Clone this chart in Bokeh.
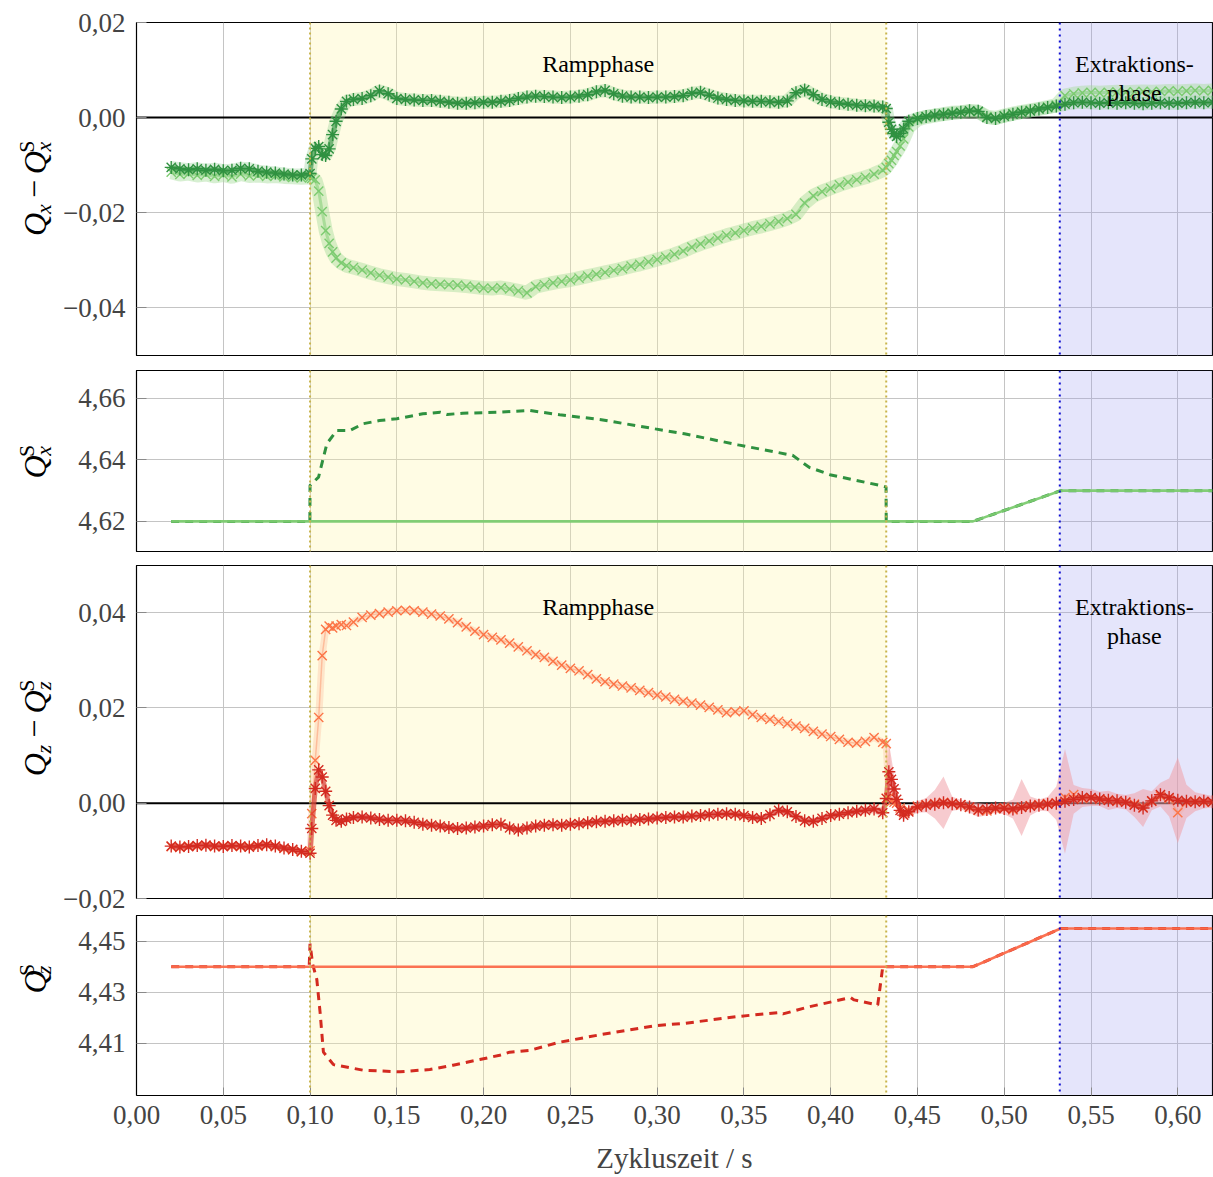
import numpy as np
from bokeh.plotting import figure
from bokeh.layouts import column, row
from bokeh.models import (Range1d, FixedTicker, CustomJSTickFormatter, BoxAnnotation,
                          Span, Label)
from bokeh.embed import file_html
from bokeh.resources import INLINE

FONT = "Liberation Serif"

# ---------------------------------------------------------------- data
# sample times (s)
T = [0.020, 0.025, 0.030, 0.035, 0.040, 0.045, 0.050, 0.055, 0.060, 0.065, 0.070, 0.075, 0.080, 0.085, 0.090, 0.095,
     0.100,
     0.101, 0.103, 0.105, 0.107, 0.109, 0.111, 0.113, 0.115, 0.118, 0.121,
     0.125, 0.130, 0.135, 0.140, 0.145, 0.150, 0.155, 0.160, 0.165, 0.170,
     0.175, 0.180, 0.185, 0.190, 0.195, 0.200, 0.205, 0.210, 0.215, 0.220,
     0.225, 0.230, 0.235, 0.240, 0.245, 0.250, 0.255, 0.260, 0.265, 0.270,
     0.275, 0.280, 0.285, 0.290, 0.295, 0.300, 0.305, 0.310, 0.315, 0.320,
     0.325, 0.330, 0.335, 0.340, 0.345, 0.350, 0.355, 0.360, 0.365, 0.370,
     0.375, 0.380, 0.385, 0.390, 0.395, 0.400, 0.405, 0.410, 0.415, 0.420,
     0.425, 0.430,
     0.432, 0.4335, 0.435, 0.4365, 0.438, 0.440, 0.442, 0.445,
     0.450, 0.455, 0.460, 0.465, 0.470, 0.475, 0.480, 0.485, 0.490, 0.495,
     0.500, 0.505, 0.510, 0.515, 0.520, 0.525, 0.530, 0.535, 0.540, 0.545,
     0.550, 0.555, 0.560, 0.565, 0.570, 0.575, 0.580, 0.585, 0.590, 0.595,
     0.600, 0.605, 0.610, 0.615, 0.620]

# Q_x - Q_x^S, measured (asterisks)
DQX_A = [-0.0105, -0.0108, -0.0110, -0.0108, -0.0111, -0.0109, -0.0112, -0.0111, -0.0107, -0.0108, -0.0113, -0.0115, -0.0117, -0.0119, -0.0121, -0.0121,
         -0.0118,
         -0.0087, -0.0065, -0.0061, -0.0078, -0.0080, -0.0066, -0.0036, -0.0008, 0.0018, 0.0034,
         0.0038, 0.0040, 0.0046, 0.0056, 0.0050, 0.0040, 0.0038, 0.0037, 0.0036, 0.0036,
         0.0034, 0.0032, 0.0030, 0.0030, 0.0031, 0.0032, 0.0032, 0.0034, 0.0036, 0.0040,
         0.0043, 0.0045, 0.0044, 0.0043, 0.0042, 0.0043, 0.0045, 0.0048, 0.0054, 0.0057,
         0.0050, 0.0045, 0.0043, 0.0043, 0.0042, 0.0043, 0.0043, 0.0044, 0.0046, 0.0051,
         0.0053, 0.0047, 0.0041, 0.0038, 0.0036, 0.0035, 0.0034, 0.0034, 0.0033, 0.0032,
         0.0035, 0.0052, 0.0058, 0.0048, 0.0038, 0.0033, 0.0030, 0.0028, 0.0026, 0.0025,
         0.0024, 0.0022,
         0.0019, -0.0010, -0.0025, -0.0034, -0.0040, -0.0033, -0.0024, -0.0008,
         -0.0002, 0.0002, 0.0005, 0.0007, 0.0009, 0.0011, 0.0014, 0.0013, 0.0000, -0.0002,
         0.0003, 0.0007, 0.0011, 0.0014, 0.0018, 0.0021, 0.0024, 0.0028, 0.0031, 0.0032,
         0.0031, 0.0030, 0.0031, 0.0030, 0.0031, 0.0030, 0.0029, 0.0030, 0.0031, 0.0030,
         0.0030, 0.0031, 0.0032, 0.0031, 0.0032]

# Q_x - Q_x^S, second measurement (crosses)
DQX_B = [-0.0115, -0.0120, -0.0118, -0.0122, -0.0120, -0.0124, -0.0121, -0.0125, -0.0119, -0.0123, -0.0122, -0.0124, -0.0123, -0.0125, -0.0126, -0.0127,
         -0.0126,
         -0.0128, -0.0131, -0.0155, -0.0198, -0.0238, -0.0265, -0.0283, -0.0296, -0.0306, -0.0312,
         -0.0316, -0.0321, -0.0327, -0.0332, -0.0336, -0.0340, -0.0342, -0.0345, -0.0348, -0.0350,
         -0.0351, -0.0352, -0.0353, -0.0355, -0.0357, -0.0359, -0.0360, -0.0358, -0.0361, -0.0365,
         -0.0369, -0.0356, -0.0352, -0.0348, -0.0345, -0.0342, -0.0338, -0.0334, -0.0330, -0.0326,
         -0.0322, -0.0318, -0.0313, -0.0309, -0.0304, -0.0299, -0.0294, -0.0288, -0.0281, -0.0273,
         -0.0266, -0.0260, -0.0254, -0.0248, -0.0243, -0.0238, -0.0233, -0.0229, -0.0224, -0.0219,
         -0.0213, -0.0204, -0.0180, -0.0165, -0.0156, -0.0149, -0.0142, -0.0136, -0.0131, -0.0126,
         -0.0119, -0.0111,
         -0.0105, -0.0097, -0.0090, -0.0080, -0.0072, -0.0060, -0.0045, -0.0020,
         -0.0004, 0.0001, 0.0004, 0.0007, 0.0010, 0.0011, 0.0013, 0.0012, 0.0002, -0.0001,
         0.0004, 0.0008, 0.0012, 0.0015, 0.0018, 0.0022, 0.0026, 0.0046, 0.0050, 0.0052,
         0.0053, 0.0052, 0.0053, 0.0054, 0.0053, 0.0054, 0.0055, 0.0054, 0.0055, 0.0056,
         0.0055, 0.0056, 0.0057, 0.0056, 0.0057]

# Q_z - Q_z^S, measured (asterisks)
DQZ_A = [-0.0090, -0.0092, -0.0091, -0.0089, -0.0088, -0.0090, -0.0091, -0.0089, -0.0090, -0.0092, -0.0089, -0.0087, -0.0090, -0.0094, -0.0097, -0.0101,
         -0.0105,
         -0.0053, 0.0031, 0.0070, 0.0055, 0.0025, -0.0005, -0.0025, -0.0036, -0.0038, -0.0033,
         -0.0030, -0.0029, -0.0031, -0.0034, -0.0036, -0.0036, -0.0037, -0.0040, -0.0044, -0.0046,
         -0.0048, -0.0051, -0.0053, -0.0052, -0.0050, -0.0048, -0.0045, -0.0044, -0.0052, -0.0056,
         -0.0052, -0.0048, -0.0046, -0.0045, -0.0046, -0.0044, -0.0043, -0.0041, -0.0039, -0.0038,
         -0.0037, -0.0036, -0.0036, -0.0034, -0.0033, -0.0031, -0.0030, -0.0029, -0.0029, -0.0027,
         -0.0026, -0.0024, -0.0023, -0.0022, -0.0023, -0.0026, -0.0030, -0.0032, -0.0024, -0.0015,
         -0.0018, -0.0028, -0.0037, -0.0038, -0.0032, -0.0026, -0.0023, -0.0020, -0.0017, -0.0015,
         -0.0012, -0.0020,
         0.0010, 0.0066, 0.0050, 0.0030, 0.0008, -0.0015, -0.0025, -0.0018,
         -0.0008, -0.0004, -0.0002, 0.0001, -0.0001, -0.0003, -0.0008, -0.0014, -0.0013, -0.0010,
         -0.0011, -0.0012, -0.0009, -0.0006, -0.0004, -0.0002, 0.0000, 0.0004, 0.0008, 0.0012,
         0.0012, 0.0009, 0.0006, 0.0005, 0.0002, -0.0004, -0.0010, 0.0005, 0.0018, 0.0012,
         0.0006, 0.0004, 0.0003, 0.0004, 0.0003]

# spread of the measured Q_z - Q_z^S
DQZ_A_ERR = [0.0006, 0.0007, 0.0006, 0.0006, 0.0007, 0.0006, 0.0006, 0.0007, 0.0006, 0.0006, 0.0007, 0.0006, 0.0006, 0.0007, 0.0006, 0.0006,
             0.0007,
             0.0008, 0.0009, 0.0010, 0.0009, 0.0008, 0.0008, 0.0008, 0.0008, 0.0008, 0.0008,
             0.0007, 0.0007, 0.0007, 0.0007, 0.0007, 0.0007, 0.0007, 0.0007, 0.0007, 0.0007,
             0.0007, 0.0007, 0.0007, 0.0007, 0.0007, 0.0007, 0.0007, 0.0007, 0.0007, 0.0007,
             0.0007, 0.0007, 0.0007, 0.0007, 0.0007, 0.0007, 0.0007, 0.0007, 0.0007, 0.0007,
             0.0007, 0.0007, 0.0007, 0.0007, 0.0007, 0.0007, 0.0007, 0.0007, 0.0007, 0.0007,
             0.0007, 0.0007, 0.0007, 0.0007, 0.0007, 0.0007, 0.0007, 0.0007, 0.0007, 0.0008,
             0.0007, 0.0007, 0.0007, 0.0007, 0.0007, 0.0007, 0.0007, 0.0007, 0.0008, 0.0008,
             0.0009, 0.0010,
             0.0010, 0.0060, 0.0045, 0.0030, 0.0020, 0.0012, 0.0010, 0.0010,
             0.0012, 0.0015, 0.0030, 0.0055, 0.0015, 0.0010, 0.0012, 0.0015, 0.0012, 0.0010,
             0.0012, 0.0020, 0.0060, 0.0020, 0.0012, 0.0015, 0.0035, 0.0110, 0.0030, 0.0020,
             0.0018, 0.0015, 0.0020, 0.0015, 0.0015, 0.0025, 0.0040, 0.0020, 0.0025, 0.0040,
             0.0090, 0.0035, 0.0020, 0.0015, 0.0012]

# Q_z - Q_z^S, second measurement (crosses)
DQZ_B = [-0.0091, -0.0093, -0.0090, -0.0090, -0.0089, -0.0091, -0.0090, -0.0090, -0.0091, -0.0091, -0.0090, -0.0088, -0.0091, -0.0095, -0.0098, -0.0102,
         -0.0100,
         -0.0022, 0.0090, 0.0180, 0.0310, 0.0365, 0.0372, 0.0368, 0.0372, 0.0375, 0.0373,
         0.0380, 0.0390, 0.0395, 0.0398, 0.0401, 0.0404, 0.0405, 0.0404, 0.0401, 0.0397,
         0.0393, 0.0387, 0.0379, 0.0370, 0.0361, 0.0354, 0.0348, 0.0343, 0.0336, 0.0328,
         0.0320, 0.0312, 0.0306, 0.0298, 0.0290, 0.0283, 0.0278, 0.0270, 0.0261, 0.0255,
         0.0250, 0.0246, 0.0242, 0.0237, 0.0232, 0.0227, 0.0223, 0.0218, 0.0214, 0.0210,
         0.0206, 0.0201, 0.0196, 0.0190, 0.0192, 0.0194, 0.0186, 0.0180, 0.0176, 0.0172,
         0.0167, 0.0162, 0.0157, 0.0151, 0.0145, 0.0140, 0.0134, 0.0128, 0.0126, 0.0130,
         0.0138, 0.0128,
         0.0125, 0.0012, 0.0004, 0.0002, 0.0000, -0.0010, -0.0020, -0.0015,
         -0.0006, -0.0003, -0.0001, 0.0002, 0.0000, -0.0004, -0.0009, -0.0015, -0.0016, -0.0012,
         -0.0009, -0.0014, -0.0008, -0.0005, -0.0003, -0.0001, 0.0001, 0.0012, 0.0018, 0.0010,
         0.0011, 0.0008, 0.0007, 0.0004, 0.0003, -0.0002, -0.0008, 0.0004, 0.0015, 0.0010,
         -0.0020, 0.0002, 0.0004, 0.0003, 0.0002]

# set tunes
QXS_NOM_T = [0.020, 0.482, 0.5325, 0.620]
QXS_NOM = [4.620, 4.620, 4.630, 4.630]
QXS_CORR_T = [0.020, 0.0999, 0.1000, 0.1049, 0.1097, 0.1154, 0.1230, 0.1307, 0.1400, 0.1500,
              0.1650, 0.1750, 0.1790, 0.1880, 0.2074, 0.2265, 0.2438, 0.2678, 0.2989, 0.3157,
              0.3467, 0.3780, 0.3876, 0.3995, 0.4307, 0.4319, 0.4320, 0.4820, 0.5325, 0.6200]
QXS_CORR = [4.6200, 4.6200, 4.6317, 4.6344, 4.6453, 4.6496, 4.6496, 4.6518, 4.6528, 4.6534,
            4.6550, 4.6555, 4.6548, 4.6552, 4.6555, 4.6561, 4.6547, 4.6531, 4.6501, 4.6485,
            4.6449, 4.6415, 4.6376, 4.6352, 4.6314, 4.6312, 4.6200, 4.6200, 4.6300, 4.6300]

QZS_NOM_T = [0.020, 0.482, 0.5325, 0.620]
QZS_NOM = [4.440, 4.440, 4.455, 4.455]
QZS_CORR_T = [0.020, 0.0995, 0.1000, 0.1015, 0.1039, 0.1058, 0.1077, 0.1135, 0.1307, 0.1518,
              0.1690, 0.1824, 0.1978, 0.2093, 0.2150, 0.2265, 0.2438, 0.2678, 0.2989, 0.3157,
              0.3467, 0.3708, 0.3725, 0.3876, 0.4115, 0.4135, 0.4271, 0.4300, 0.4820, 0.5325,
              0.6200]
QZS_CORR = [4.4400, 4.4400, 4.4490, 4.4410, 4.4350, 4.4220, 4.4065, 4.4016, 4.3994, 4.3988,
            4.3997, 4.4014, 4.4036, 4.4053, 4.4065, 4.4072, 4.4104, 4.4134, 4.4169, 4.4178,
            4.4205, 4.4221, 4.4215, 4.4243, 4.4279, 4.4270, 4.4250, 4.4400, 4.4400, 4.4550,
            4.4550]

RAMP = (0.100, 0.432)
EXTRACTION = (0.532, 0.620)
X_TICKS = [0.00, 0.05, 0.10, 0.15, 0.20, 0.25, 0.30, 0.35, 0.40, 0.45, 0.50, 0.55, 0.60]

# ---------------------------------------------------------------- styling
LABEL_W = 59               # strip holding the rotated y labels
PLOT_W = 1213 - LABEL_W
GREEN_DARK = "#2f9140"
GREEN_LIGHT = "#7ccb70"
RED_DARK = "#d32a20"
RED_LIGHT = "#fc7446"
GRID = "#c4c4c4"
TICK_FMT = "return tick.toFixed(2).replace('.', ',').replace('-', '\u2212');"

XR = Range1d(0.0, 0.62)


def panel(y0, y1, yticks, height, top, bottom, x_axis=False):
    p = figure(width=PLOT_W, height=height, x_range=XR, y_range=Range1d(y0, y1),
               output_backend="svg", toolbar_location=None,
               x_axis_location="below" if x_axis else None,
               min_border_left=136 - LABEL_W, min_border_right=1,
               min_border_top=top, min_border_bottom=bottom)
    p.outline_line_color = "black"
    p.outline_line_width = 1.2
    p.background_fill_color = "white"
    p.border_fill_color = "white"
    for g, ticks in ((p.xgrid, X_TICKS), (p.ygrid, yticks)):
        g.ticker = FixedTicker(ticks=ticks)
        g.grid_line_color = GRID
        g.grid_line_width = 1

    ax = p.yaxis[0]
    ax.ticker = FixedTicker(ticks=yticks)
    ax.formatter = CustomJSTickFormatter(code=TICK_FMT)
    ax.major_tick_in = 10
    ax.major_tick_out = 0
    ax.minor_tick_in = 0
    ax.minor_tick_out = 0
    ax.major_tick_line_color = "#8a8a8a"
    ax.axis_line_color = "black"
    ax.major_label_text_font = FONT
    ax.major_label_text_font_size = "27px"
    ax.major_label_standoff = 11

    if x_axis:
        xa = p.xaxis[0]
        xa.ticker = FixedTicker(ticks=X_TICKS)
        xa.formatter = CustomJSTickFormatter(code=TICK_FMT)
        xa.major_tick_in = 8
        xa.major_tick_out = 0
        xa.minor_tick_in = 0
        xa.minor_tick_out = 0
        xa.major_tick_line_color = "#8a8a8a"
        xa.axis_line_color = "black"
        xa.major_label_text_font = FONT
        xa.major_label_text_font_size = "27px"
        xa.major_label_standoff = 10
        xa.axis_label = "Zykluszeit / s"
        xa.axis_label_text_font = FONT
        xa.axis_label_text_font_size = "29px"
        xa.axis_label_text_font_style = "normal"
        xa.axis_label_standoff = 15

    # phase shading
    p.add_layout(BoxAnnotation(left=RAMP[0], right=RAMP[1], fill_color="#fff5a5",
                               fill_alpha=0.30, line_color=None, level="underlay"))
    p.add_layout(BoxAnnotation(left=EXTRACTION[0], right=EXTRACTION[1], fill_color="#9696f0",
                               fill_alpha=0.25, line_color=None, level="underlay"))
    for loc in RAMP:
        p.add_layout(Span(location=loc, dimension="height", line_color="#c8b44c",
                          line_width=2, line_dash="2 3"))
    p.add_layout(Span(location=EXTRACTION[0], dimension="height", line_color="#1010d0",
                      line_width=2, line_dash="2 4"))
    return p


def label_strip(height, center, pieces):
    # a narrow blank figure whose data units are pixels (y counted from the top);
    # every piece is centred on its own spot, rotated to read upwards
    f = figure(width=LABEL_W, height=height, x_range=Range1d(0, LABEL_W),
               y_range=Range1d(height, 0), output_backend="svg", toolbar_location=None,
               x_axis_location=None, y_axis_location=None, min_border=0)
    f.outline_line_color = None
    f.grid.visible = False
    f.background_fill_color = "white"
    f.border_fill_color = "white"
    for txt, x, adv, size, style in pieces:
        f.add_layout(Label(x=x, y=center - adv, text=txt, angle=np.pi / 2,
                           text_align="center", text_baseline="middle",
                           text_font=FONT, text_font_size=f"{size}px",
                           text_font_style=style, text_color="black"))
    return f


def diff_label(sub):
    # Q_sub - Q_sub^S ; (text, centre x, centre offset upwards, size, style)
    return [("Q", 34, -39.5, 32, "italic"), (sub, 42.5, -23, 22, "italic"),
            ("\u2212", 34, -1, 32, "normal"), ("Q", 34, 27.5, 32, "italic"),
            ("S", 25.5, 45, 22, "normal"), (sub, 42.5, 45, 22, "italic")]


def set_label(sub):
    return [("Q", 34, -6, 32, "italic"), ("S", 25.5, 11.5, 22, "normal"),
            (sub, 42.5, 11.5, 22, "italic")]


def phase_texts(p, y_top, line_gap):
    kw = dict(text_font=FONT, text_font_size="24px", text_align="center",
              text_baseline="middle", text_color="black")
    p.add_layout(Label(x=0.266, y=y_top, text="Rampphase", **kw))
    p.add_layout(Label(x=0.575, y=y_top, text="Extraktions-", **kw))
    p.add_layout(Label(x=0.575, y=y_top - line_gap, text="phase", **kw))


# ---------------------------------------------------------------- panel 1: Q_x - Q_x^S
H1, H2, H3, H4 = 362, 196, 356, 263
p1 = panel(-0.0501, 0.02, [-0.04, -0.02, 0.0, 0.02], H1, 22, 7)
p1.add_layout(Span(location=0, dimension="width", line_color="black", line_width=2, level="underlay"))
p1.line(T, DQX_B, line_color="#a6dc9c", line_width=14, line_alpha=0.45)
p1.line(T, DQX_A, line_color="#8fcf93", line_width=13, line_alpha=0.35)
p1.line(T, DQX_B, line_color=GREEN_LIGHT, line_width=3, line_alpha=0.5)
p1.scatter(T, DQX_B, marker="x", size=13, line_color=GREEN_LIGHT, line_width=1.4)
p1.line(T, DQX_A, line_color=GREEN_DARK, line_width=5, line_alpha=0.6)
p1.scatter(T, DQX_A, marker="asterisk", size=13, line_color=GREEN_DARK, line_width=1.4)
phase_texts(p1, 0.0112, 0.0061)
l1 = label_strip(H1, 180, diff_label("x"))

# ---------------------------------------------------------------- panel 2: Q_x^S
p2 = panel(4.6102, 4.6691, [4.62, 4.64, 4.66], H2, 8, 7)
p2.line(QXS_CORR_T, QXS_CORR, line_color=GREEN_DARK, line_width=3, line_dash="8 6")
p2.line(QXS_NOM_T, QXS_NOM, line_color=GREEN_LIGHT, line_width=2.6, line_alpha=0.95)
l2 = label_strip(H2, 8 + 181 / 2, set_label("x"))

# ---------------------------------------------------------------- panel 3: Q_z - Q_z^S
p3 = panel(-0.02, 0.0499, [-0.02, 0.0, 0.02, 0.04], H3, 7, 16)
p3.add_layout(Span(location=0, dimension="width", line_color="black", line_width=2, level="underlay"))
lo = [v - e for v, e in zip(DQZ_A, DQZ_A_ERR)]
hi = [v + e for v, e in zip(DQZ_A, DQZ_A_ERR)]
p3.line(T, DQZ_B, line_color="#fdbb9a", line_width=7, line_alpha=0.35)
p3.varea(x=T, y1=lo, y2=hi, fill_color="#f0a0a8", fill_alpha=0.55)
p3.line(T, DQZ_B, line_color=RED_LIGHT, line_width=1.5, line_alpha=0.35)
p3.scatter(T, DQZ_B, marker="x", size=13, line_color=RED_LIGHT, line_width=1.4)
p3.line(T, DQZ_A, line_color=RED_DARK, line_width=5, line_alpha=0.6)
p3.scatter(T, DQZ_A, marker="asterisk", size=13, line_color=RED_DARK, line_width=1.4)
phase_texts(p3, 0.0411, 0.0061)
l3 = label_strip(H3, 7 + 333 / 2, diff_label("z"))

# ---------------------------------------------------------------- panel 4: Q_z^S
p4 = panel(4.3895, 4.4601, [4.41, 4.43, 4.45], H4, 1, 82, x_axis=True)
p4.line(QZS_CORR_T, QZS_CORR, line_color=RED_DARK, line_width=3, line_dash="8 6")
p4.line(QZS_NOM_T, QZS_NOM, line_color="#fb6a4a", line_width=2.6, line_alpha=0.95)
l4 = label_strip(H4, 1 + 180 / 2, set_label("z"))

layout = column(row(l1, p1, spacing=0), row(l2, p2, spacing=0),
                row(l3, p3, spacing=0), row(l4, p4, spacing=0), spacing=0)
open("out.html", "w").write(file_html(layout, INLINE))
